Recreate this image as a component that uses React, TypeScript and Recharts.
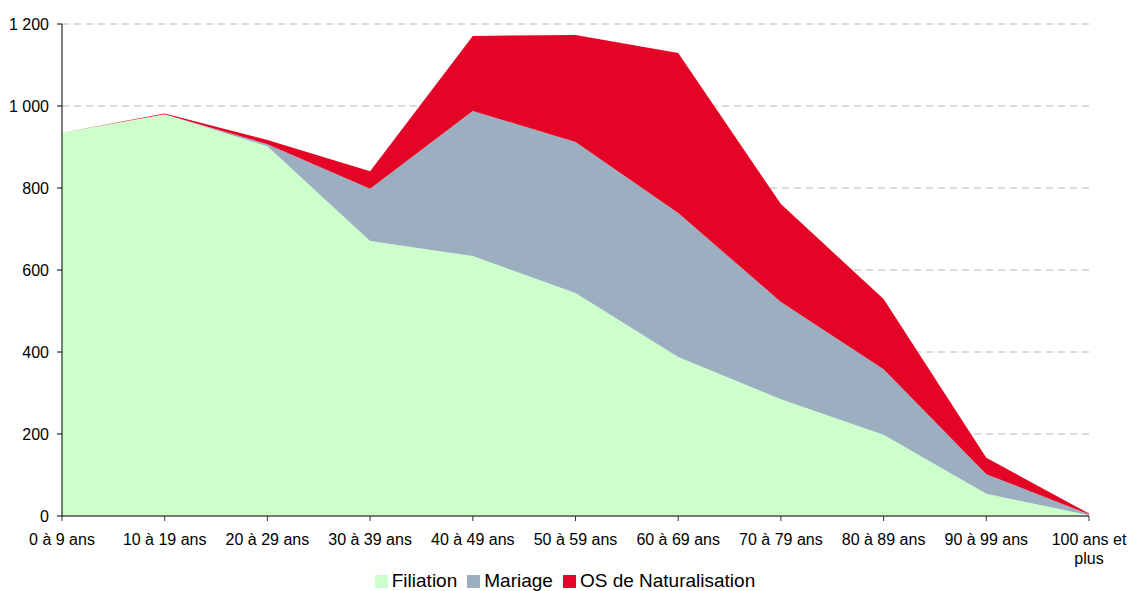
import React from 'react';
import { AreaChart, Area, XAxis, YAxis, CartesianGrid, Legend } from 'recharts';

// Age groups on the x axis
const ageGroups = [
  '0 à 9 ans', '10 à 19 ans', '20 à 29 ans', '30 à 39 ans', '40 à 49 ans', '50 à 59 ans',
  '60 à 69 ans', '70 à 79 ans', '80 à 89 ans', '90 à 99 ans', '100 ans et plus',
];

const filiation = [935, 980, 902, 671, 634, 544, 388, 285, 198, 54, 2];
const mariage = [0, 0, 5, 127, 354, 368, 351, 237, 160, 48, 2];
const naturalisation = [0, 2, 10, 43, 183, 261, 390, 239, 171, 40, 2];

const yTicks = [0, 200, 400, 600, 800, 1000, 1200];

const data = ageGroups.map((name, i) => ({
  name,
  filiation: filiation[i],
  mariage: mariage[i],
  naturalisation: naturalisation[i],
}));

const FONT = '"Liberation Sans", Arial, Helvetica, sans-serif';

const fmtThousands = (v: number) => String(v).replace(/\B(?=(\d{3})+(?!\d))/g, ' ');

const splitLabel = (label: string) => {
  if (label.length <= 12) return [label];
  const cut = label.lastIndexOf(' ');
  return [label.slice(0, cut), label.slice(cut + 1)];
};

const AgeTick = (props: any) => {
  const { x, y, payload } = props;
  const lines = splitLabel(payload.value);
  return (
    <text x={x} y={y} textAnchor="middle" fill="#000" fontSize={16} fontFamily={FONT}>
      {lines.map((l, i) => (
        <tspan key={i} x={x} dy={i === 0 ? 22 : 19}>{l}</tspan>
      ))}
    </text>
  );
};

const legendItems = [
  { label: 'Filiation', color: '#ccffcc' },
  { label: 'Mariage', color: '#9bafc0' },
  { label: 'OS de Naturalisation', color: '#e30426' },
];

const LegendContent = () => (
  <div style={{ display: 'flex', justifyContent: 'center', alignItems: 'center', fontFamily: FONT, fontSize: 19, lineHeight: '22px', color: '#000' }}>
    {legendItems.map((it, i) => (
      <span key={it.label} style={{ display: 'inline-flex', alignItems: 'center', marginRight: i < legendItems.length - 1 ? 10 : 0 }}>
        <span style={{ display: 'inline-block', width: 13, height: 13, background: it.color, marginRight: 4 }} />
        {it.label}
      </span>
    ))}
  </div>
);

export default function App() {
  return (
    <div style={{ position: 'absolute', left: 0, top: 0, background: '#fff' }}>
      <AreaChart width={1130} height={591} data={data} margin={{ top: 24, right: 41, left: 2, bottom: 0 }}>
        <CartesianGrid horizontal vertical={false} stroke="#a6bccc" strokeDasharray="7 5" />
        <XAxis
          dataKey="name"
          interval={0}
          height={53}
          tick={<AgeTick />}
          tickSize={5}
          axisLine={{ stroke: '#777', strokeWidth: 2 }}
          tickLine={{ stroke: '#333' }}
        />
        <YAxis
          domain={[0, 1200]}
          ticks={yTicks}
          width={60}
          tickFormatter={fmtThousands}
          tickSize={5}
          tickMargin={8}
          axisLine={{ stroke: '#000' }}
          tickLine={{ stroke: '#000' }}
          tick={{ fill: '#000', fontSize: 16, fontFamily: FONT }}
        />
        <Area type="linear" dataKey="filiation" name="Filiation" stackId="a" stroke="none" fill="#ccffcc" fillOpacity={1} isAnimationActive={false} />
        <Area type="linear" dataKey="mariage" name="Mariage" stackId="a" stroke="none" fill="#9bafc0" fillOpacity={1} isAnimationActive={false} />
        <Area type="linear" dataKey="naturalisation" name="OS de Naturalisation" stackId="a" stroke="none" fill="#e30426" fillOpacity={1} isAnimationActive={false} />
        <Legend verticalAlign="bottom" content={<LegendContent />} wrapperStyle={{ left: 0, width: 1130, bottom: -1 }} />
      </AreaChart>
    </div>
  );
}
